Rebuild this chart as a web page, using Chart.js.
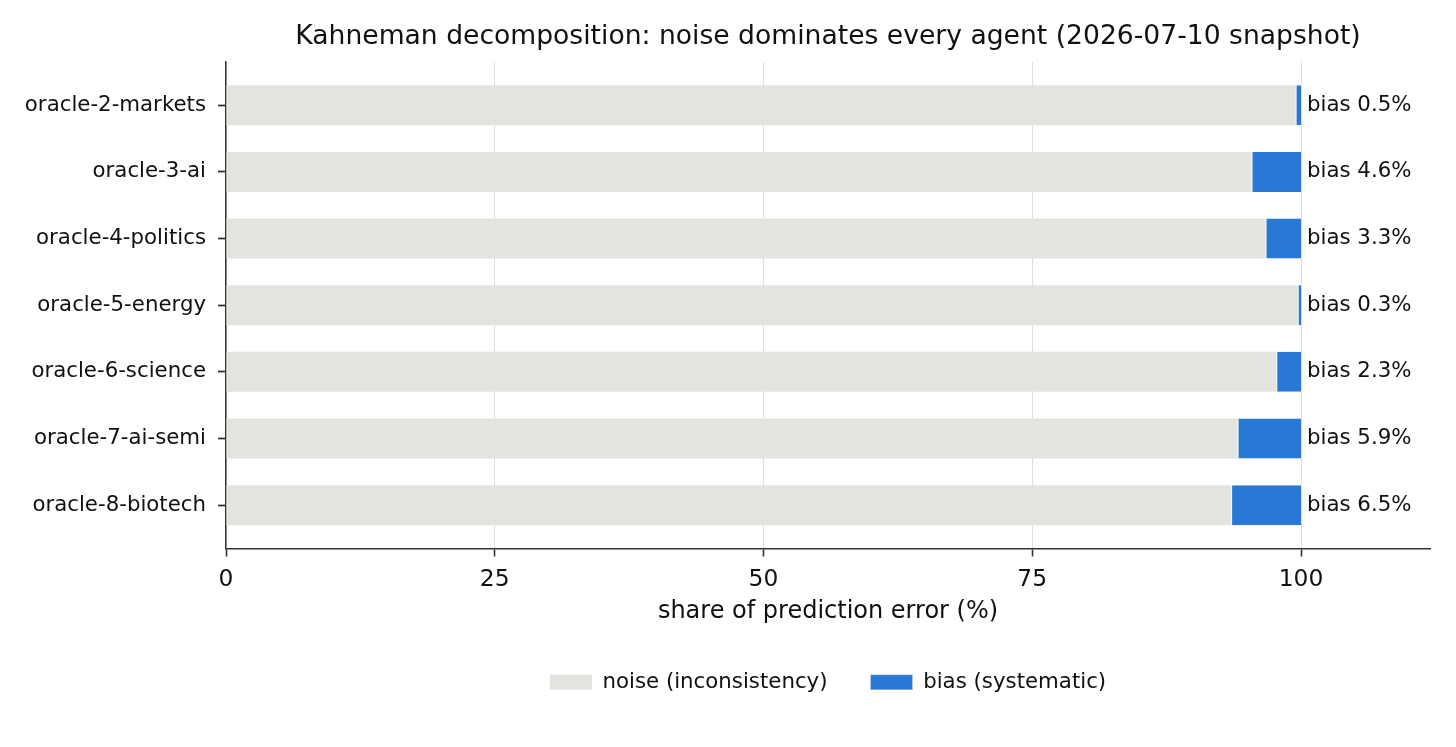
<!DOCTYPE html>
<html>
<head>
<meta charset="utf-8">
<script src="https://cdn.jsdelivr.net/npm/chart.js@4.4.1/dist/chart.umd.min.js"></script>
<style>
  html, body { margin: 0; padding: 0; background: #fff; }
  #wrap { width: 1456px; height: 747px; position: relative; }
</style>
</head>
<body>
<div id="wrap"><canvas id="chart"></canvas></div>
<script>
const agents = ["oracle-2-markets", "oracle-3-ai", "oracle-4-politics", "oracle-5-energy",
                "oracle-6-science", "oracle-7-ai-semi", "oracle-8-biotech"]
const noise = [99.5, 95.4, 96.7, 99.7, 97.7, 94.1, 93.5]
const bias = [0.5, 4.6, 3.3, 0.3, 2.3, 5.9, 6.5]
const xTicks = [0, 25, 50, 75, 100]

const font = "'DejaVu Sans', sans-serif"
const axisColor = "#333333"

// "bias x%" text just past the 100 mark
const biasLabels = {
  id: "biasLabels",
  afterDatasetsDraw(chart) {
    let ctx = chart.ctx, xs = chart.scales.x, ys = chart.scales.y
    ctx.save()
    ctx.font = "21.3px " + font
    ctx.fillStyle = "#111"
    ctx.textAlign = "left"
    ctx.textBaseline = "middle"
    bias.forEach((b, i) => {
      ctx.fillText("bias " + b.toFixed(1) + "%", xs.getPixelForValue(100) + 6, ys.getPixelForValue(i))
    })
    ctx.restore()
  }
}

new Chart(document.getElementById("chart"), {
  type: "bar",
  plugins: [biasLabels],
  data: {
    datasets: [
      {
        label: "noise (inconsistency)",
        data: noise.map((v, i) => ({ x: v, y: i })),
        backgroundColor: "#e3e4df",
        borderWidth: 0,
        barPercentage: 0.6,
        categoryPercentage: 1
      },
      {
        label: "bias (systematic)",
        data: bias.map((v, i) => ({ x: v, y: i })),
        backgroundColor: "#2a78d6",
        borderColor: "#f2f2ee",
        borderWidth: { left: 1 },
        borderSkipped: false,
        barPercentage: 0.6,
        categoryPercentage: 1
      }
    ]
  },
  options: {
    indexAxis: "y",
    responsive: true,
    maintainAspectRatio: false,
    animation: false,
    layout: { padding: { left: 20, right: 26, top: 0, bottom: 44 } },
    scales: {
      x: {
        type: "linear",
        stacked: true,
        min: 0,
        max: 112,
        afterBuildTicks: s => { s.ticks = xTicks.map(v => ({ value: v })) },
        ticks: { font: { family: font, size: 23.4, lineHeight: 1 }, color: "#111", padding: 12, maxRotation: 0 },
        grid: { color: "#dedede", lineWidth: 1, tickColor: axisColor, tickLength: 8, tickWidth: 1.6 },
        border: { color: axisColor, width: 1.5 },
        title: {
          display: true,
          text: "share of prediction error (%)",
          font: { family: font, size: 24 },
          color: "#111",
          padding: { top: -7, bottom: 3 }
        }
      },
      y: {
        type: "linear",
        stacked: true,
        reverse: true,
        offset: false,
        min: -0.65,
        max: 6.65,
        afterBuildTicks: s => { s.ticks = agents.map((_, i) => ({ value: i })) },
        afterFit: s => { s.width = 206 },
        ticks: {
          font: { family: font, size: 21.3 },
          color: "#111",
          padding: 12,
          callback: v => agents[v]
        },
        grid: { offset: false, drawOnChartArea: false, tickColor: axisColor, tickLength: 8, tickWidth: 1.8 },
        border: { color: axisColor, width: 1.5 }
      }
    },
    plugins: {
      tooltip: { enabled: false },
      title: {
        display: true,
        fullSize: false,
        text: "Kahneman decomposition: noise dominates every agent (2026-07-10 snapshot)",
        font: { family: font, size: 26.6, weight: "normal" },
        color: "#111",
        padding: { top: 21, bottom: 9 }
      },
      legend: {
        position: "bottom",
        fullSize: false,
        labels: {
          font: { family: font, size: 21.3 },
          color: "#111",
          boxWidth: 42,
          boxHeight: 15,
          padding: 43
        }
      }
    }
  }
})
</script>
</body>
</html>
